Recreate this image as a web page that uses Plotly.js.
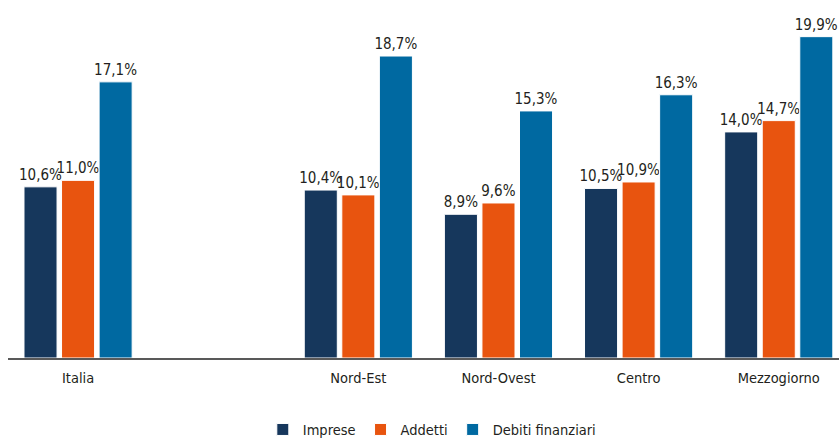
<!DOCTYPE html>
<html>
<head>
<meta charset="utf-8">
<script src="https://cdn.plot.ly/plotly-3.0.1.min.js"></script>
<style>html,body{margin:0;padding:0;background:#fff;}#chart{width:839px;height:441px;}</style>
</head>
<body>
<div id="chart"></div>
<script>
// Data (values in %)
var categories = ["Italia", "Nord-Est", "Nord-Ovest", "Centro", "Mezzogiorno"];
var positions = [0, 2, 3, 4, 5]; // empty slot between Italia and the regions
var imprese = [10.6, 10.4, 8.9, 10.5, 14.0];
var addetti = [11.0, 10.1, 9.6, 10.9, 14.7];
var debiti = [17.1, 18.7, 15.3, 16.3, 19.9];
var seriesNames = ["Imprese", "Addetti", "Debiti finanziari"];
var colors = ["#16375c", "#e8540f", "#0069a1"];

var FONT = "DejaVu Sans Condensed, sans-serif";
function lbl(arr){ return arr.map(function(v){ return v.toFixed(1).replace('.', ',') + '%'; }); }

var data = [imprese, addetti, debiti].map(function(vals, i){
  return {
    type: 'bar',
    x: positions,
    y: vals,
    name: seriesNames[i],
    marker: {color: colors[i], line: {color: '#ffffff', width: 1}},
    text: lbl(vals),
    textposition: 'outside',
    constraintext: 'none',
    cliponaxis: false,
    textfont: {family: FONT, size: 15, color: '#231f20'},
    hoverinfo: 'skip'
  };
});

var layout = {
  width: 839, height: 441,
  margin: {l: 8, r: 0, t: 10, b: 83},
  paper_bgcolor: '#ffffff', plot_bgcolor: '#ffffff',
  barmode: 'group',
  bargap: 0.196,
  bargroupgap: 0.12,
  font: {family: FONT, size: 14, color: '#231f20'},
  xaxis: {
    range: [-0.5, 5.43],
    tickvals: positions,
    ticktext: categories,
    showline: true, linecolor: '#595959', linewidth: 1.5,
    showgrid: false, zeroline: false, ticks: '',
    ticklabelstandoff: 6,
    tickfont: {family: FONT, size: 14.5, color: '#231f20'},
    fixedrange: true
  },
  yaxis: {
    range: [0, 21.55],
    visible: false, showgrid: false, zeroline: false, fixedrange: true
  },
  showlegend: true,
  legend: {
    orientation: 'h',
    x: 0.51, xanchor: 'center',
    yref: 'container', y: 0.026, yanchor: 'middle',
    font: {family: FONT, size: 14.5, color: '#231f20'},
    itemwidth: 30,
    tracegroupgap: 0,
    traceorder: 'normal'
  }
};

Plotly.newPlot('chart', data, layout, {displayModeBar: false, staticPlot: true});
</script>
</body>
</html>
